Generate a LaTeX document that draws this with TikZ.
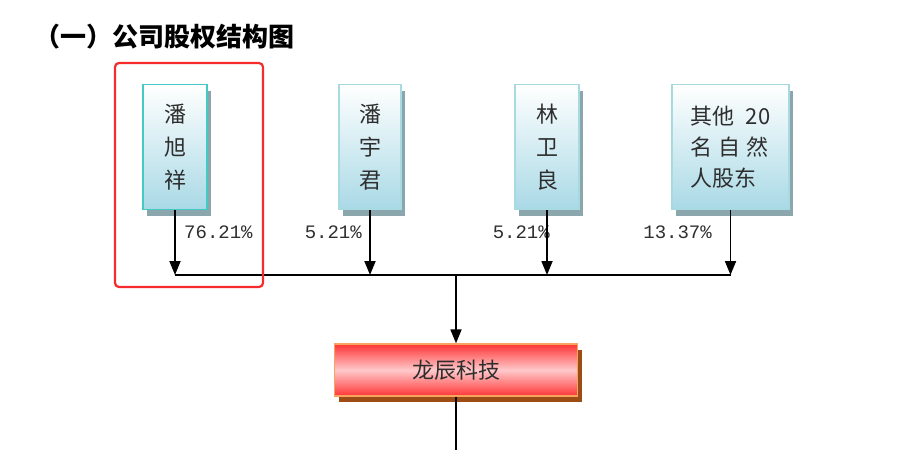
\documentclass[tikz,border=0pt]{standalone}
\usepackage{fontspec}
\newfontfamily\cjk{Noto Sans CJK SC}
\setmonofont{Liberation Mono}
\usetikzlibrary{calc,positioning,shadows,arrows.meta}
\definecolor{holderline}{HTML}{A8DAE2}
\definecolor{holdertop}{HTML}{45C9C4}
\definecolor{holderfill}{HTML}{A9D9E6}
\definecolor{holdershade}{HTML}{8CA6AE}
\definecolor{firmline}{HTML}{F7A45E}
\definecolor{firmred}{HTML}{FF3535}
\definecolor{firmpink}{HTML}{FFC9CB}
\definecolor{firmshade}{HTML}{9C4C14}
\definecolor{framered}{HTML}{F62B2B}
\definecolor{inkgray}{HTML}{2E2E2E}

\begin{document}
\begin{tikzpicture}[x=1pt, y=-1pt, >={Triangle[width=11pt,length=14pt]},
  holder/.style = {draw=holderline, line width=1.3pt, top color=white, bottom color=holderfill,
    minimum height=125pt, inner sep=0pt, align=center, text=inkgray,
    font=\cjk\fontsize{22}{33}\selectfont,
    drop shadow={shadow xshift=4pt, shadow yshift=-6pt, fill=holdershade, opacity=1}},
  firm/.style = {draw=firmline, line width=1.3pt, top color=firmred, bottom color=firmred, middle color=firmpink,
    minimum width=243pt, minimum height=52pt, text=inkgray, font=\cjk\fontsize{22}{22}\selectfont,
    drop shadow={shadow xshift=4pt, shadow yshift=-6pt, fill=firmshade, opacity=1}},
  pct/.style = {inner sep=0pt, text=inkgray, font=\ttfamily\fontsize{19}{19}\selectfont},
  link/.style = {line width=1.8pt}]
\useasboundingbox (0,0) rectangle (912,450);

\node[anchor=west, inner sep=0pt, font=\cjk\bfseries\fontsize{26}{26}\selectfont] (title) at (34,37) {（一）公司股权结构图};

\node[holder, draw=holdertop, minimum width=64pt] (b1) at (175,147) {潘\\旭\\祥};
\node[holder, minimum width=62pt]                 (b2) at (370,147) {潘\\宇\\君};
\node[holder, minimum width=64pt]                 (b3) at (547,147) {林\\卫\\良};
\node[holder, minimum width=117pt, font=\cjk\fontsize{22}{31}\selectfont, align=left] (b4) at (730.5,147) {其他\enspace 20\\名\kern6pt 自\kern6pt 然\\人股东};
\node[firm] (firm) at (456,370) {龙辰科技};

\coordinate (bus)  at (456,275);
\coordinate (tail) at (456,450);

\node[pct, anchor=west] (p1) at (184,232) {76.21\%};
\node[pct, anchor=east] (p2) at (362,232) {5.21\%};
\node[pct, anchor=east] (p3) at (550,232) {5.21\%};
\node[pct, anchor=east] (p4) at (712,232) {13.37\%};

\foreach \b in {b1,b2,b3,b4}
  \draw[link, ->] (\b.south) -- (\b.south |- bus);
\draw[line width=1.5pt] (b1.south |- bus) -- (b4.south |- bus);
\draw[link, ->] (bus) -- (firm.north);
\draw[link] (firm.south) -- (tail);

\draw[framered, line width=2.2pt, rounded corners=4pt] (115,63) rectangle (263,287);
\end{tikzpicture}
\end{document}
